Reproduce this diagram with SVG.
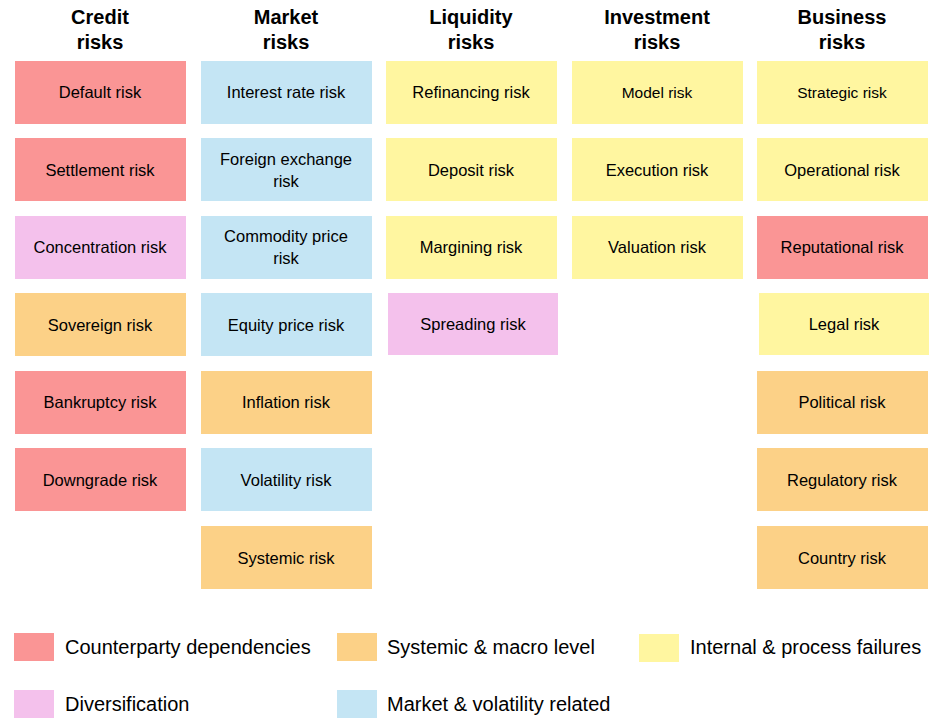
<svg xmlns="http://www.w3.org/2000/svg" width="942" height="728" viewBox="0 0 942 728">
<style>
text{font-family:"Liberation Sans",Arial,sans-serif;fill:#000}
.h{font-size:20px;font-weight:bold;text-anchor:middle}
.t{font-size:16.5px;text-anchor:middle;dominant-baseline:central}
.l{font-size:20px}
.r{fill:#FA9595}.b{fill:#C4E5F4}.y{fill:#FFF6A0}.p{fill:#F4C1EC}.o{fill:#FCD187}
</style>
<rect width="942" height="728" fill="#fff"/>
<g id="headers">
<text class="h" x="100" y="24">Credit</text><text class="h" x="100" y="49">risks</text>
<text class="h" x="286" y="24">Market</text><text class="h" x="286" y="49">risks</text>
<text class="h" x="471" y="24">Liquidity</text><text class="h" x="471" y="49">risks</text>
<text class="h" x="657" y="24">Investment</text><text class="h" x="657" y="49">risks</text>
<text class="h" x="842" y="24">Business</text><text class="h" x="842" y="49">risks</text>
</g>
<g id="n1"><rect class="r" x="15" y="61" width="171" height="63"/><text class="t" x="100" y="92">Default risk</text></g>
<g id="n2"><rect class="r" x="15" y="138" width="171" height="63"/><text class="t" x="100" y="170">Settlement risk</text></g>
<g id="n3"><rect class="p" x="15" y="216" width="171" height="63"/><text class="t" x="100" y="247">Concentration risk</text></g>
<g id="n4"><rect class="o" x="15" y="293" width="171" height="63"/><text class="t" x="100" y="325">Sovereign risk</text></g>
<g id="n5"><rect class="r" x="15" y="371" width="171" height="63"/><text class="t" x="100" y="402">Bankruptcy risk</text></g>
<g id="n6"><rect class="r" x="15" y="448" width="171" height="63"/><text class="t" x="100" y="480">Downgrade risk</text></g>
<g id="m1"><rect class="b" x="201" y="61" width="171" height="63"/><text class="t" x="286" y="92">Interest rate risk</text></g>
<g id="m2"><rect class="b" x="201" y="138" width="171" height="63"/><text class="t" x="286" y="159">Foreign exchange</text><text class="t" x="286" y="181">risk</text></g>
<g id="m3"><rect class="b" x="201" y="216" width="171" height="63"/><text class="t" x="286" y="236">Commodity price</text><text class="t" x="286" y="258">risk</text></g>
<g id="m4"><rect class="b" x="201" y="293" width="171" height="63"/><text class="t" x="286" y="325">Equity price risk</text></g>
<g id="m5"><rect class="o" x="201" y="371" width="171" height="63"/><text class="t" x="286" y="402">Inflation risk</text></g>
<g id="m6"><rect class="b" x="201" y="448" width="171" height="63"/><text class="t" x="286" y="480">Volatility risk</text></g>
<g id="m7"><rect class="o" x="201" y="526" width="171" height="63"/><text class="t" x="286" y="558">Systemic risk</text></g>
<g id="q1"><rect class="y" x="386" y="61" width="171" height="63"/><text class="t" x="471" y="92">Refinancing risk</text></g>
<g id="q2"><rect class="y" x="386" y="138" width="171" height="63"/><text class="t" x="471" y="170">Deposit risk</text></g>
<g id="q3"><rect class="y" x="386" y="216" width="171" height="63"/><text class="t" x="471" y="247">Margining risk</text></g>
<g id="q4"><rect class="p" x="388" y="293" width="170" height="62"/><text class="t" x="473" y="324">Spreading risk</text></g>
<g id="i1"><rect class="y" x="572" y="61" width="171" height="63"/><text class="t" x="657" y="92" style="font-size:15.5px">Model risk</text></g>
<g id="i2"><rect class="y" x="572" y="138" width="171" height="63"/><text class="t" x="657" y="170">Execution risk</text></g>
<g id="i3"><rect class="y" x="572" y="216" width="171" height="63"/><text class="t" x="657" y="247">Valuation risk</text></g>
<g id="b1"><rect class="y" x="757" y="61" width="171" height="63"/><text class="t" x="842" y="92" style="font-size:15.5px">Strategic risk</text></g>
<g id="b2"><rect class="y" x="757" y="138" width="171" height="63"/><text class="t" x="842" y="170">Operational risk</text></g>
<g id="b3"><rect class="r" x="757" y="216" width="171" height="63"/><text class="t" x="842" y="247">Reputational risk</text></g>
<g id="b4"><rect class="y" x="759" y="293" width="170" height="62"/><text class="t" x="844" y="324">Legal risk</text></g>
<g id="b5"><rect class="o" x="757" y="371" width="171" height="63"/><text class="t" x="842" y="402">Political risk</text></g>
<g id="b6"><rect class="o" x="757" y="448" width="171" height="63"/><text class="t" x="842" y="480">Regulatory risk</text></g>
<g id="b7"><rect class="o" x="757" y="526" width="171" height="63"/><text class="t" x="842" y="558">Country risk</text></g>
<g id="legend">
<rect class="r" x="14" y="633" width="40" height="28"/><text class="l" x="65" y="654">Counterparty dependencies</text>
<rect class="o" x="337" y="633" width="40" height="28"/><text class="l" x="387" y="654">Systemic &amp; macro level</text>
<rect class="y" x="639" y="634" width="40" height="28"/><text class="l" x="690" y="654">Internal &amp; process failures</text>
<rect class="p" x="14" y="690" width="40" height="28"/><text class="l" x="65" y="711">Diversification</text>
<rect class="b" x="337" y="690" width="40" height="28"/><text class="l" x="387" y="711">Market &amp; volatility related</text>
</g>
<g id="connectors"/>
</svg>
